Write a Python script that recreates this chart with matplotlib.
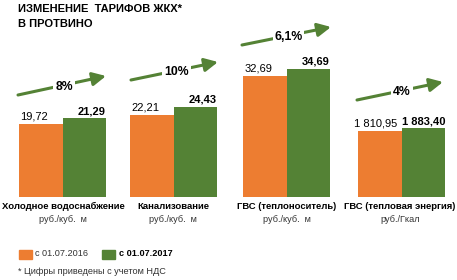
import matplotlib
matplotlib.use('Agg')
import matplotlib.pyplot as plt
from matplotlib.patches import Rectangle, FancyArrowPatch

plt.rcParams['font.family'] = ['Liberation Sans', 'DejaVu Sans']

# ---- data ----
categories = ['Холодное водоснабжение', 'Канализование',
              'ГВС (теплоноситель)', 'ГВС (тепловая энергия)']
units = ['руб./куб.  м', 'руб./куб.  м', 'руб./куб.  м', 'руб./Гкал']
values_2016 = [19.72, 22.21, 32.69, 1810.95]
values_2017 = [21.29, 24.43, 34.69, 1883.40]
labels_2016 = ['19,72', '22,21', '32,69', '1 810,95']
labels_2017 = ['21,29', '24,43', '34,69', '1 883,40']
growth = ['8%', '10%', '6,1%', '4%']
series_names = ['с 01.07.2016', 'с 01.07.2017']
title_lines = ['ИЗМЕНЕНИЕ  ТАРИФОВ ЖКХ*', 'В ПРОТВИНО']
footnote = '* Цифры приведены с учетом НДС'

# ---- style / layout ----
ORANGE = '#ED7D31'
GREEN = '#548235'
TXT = '#333333'
W, H = 457, 280

fig = plt.figure(figsize=(W / 100, H / 100), dpi=100)


def fx(x):
    return x / W


def fy(y):
    return 1 - y / H


group_left = [19, 130, 243, 358]
group_right = [106, 217, 330, 445]
bar_bottom, ax_top = 197, 20
ymax = [47.8, 47.8, 47.8, 4857]
arrows = [((18, 95), (106, 76)), ((131, 80), (218, 62)),
          ((242, 45), (331, 27)), ((357, 100), (443, 82))]
label_x = [63, 173, 287, 400]

for i in range(4):
    ax = fig.add_axes([fx(group_left[i]), fy(bar_bottom),
                       (group_right[i] - group_left[i]) / W,
                       (bar_bottom - ax_top) / H])
    ax.bar([0, 1], [values_2016[i], values_2017[i]], width=1.0,
           color=[ORANGE, GREEN])
    ax.set_xlim(-0.5, 1.5)
    ax.set_ylim(0, ymax[i])
    ax.axis('off')
    if i < 3:
        ax.annotate(labels_2016[i], (-0.5, values_2016[i]), xytext=(1, 1.5),
                    textcoords='offset points', ha='left', va='bottom',
                    fontsize=8, color='black')
        ax.annotate(labels_2017[i], (1.5, values_2017[i]), xytext=(-0.5, 1.5),
                    textcoords='offset points', ha='right', va='bottom',
                    fontsize=8, fontweight='bold', color='black')
    else:
        ax.annotate(labels_2016[i], (0, values_2016[i]), xytext=(-3, 1.5),
                    textcoords='offset points', ha='center', va='bottom',
                    fontsize=8, color='black')
        ax.annotate(labels_2017[i], (1, values_2017[i]), xytext=(0, 1.5),
                    textcoords='offset points', ha='center', va='bottom',
                    fontsize=8, fontweight='bold', color='black')

    # growth arrow
    (x0, y0), (x1, y1) = arrows[i]
    arr = FancyArrowPatch((fx(x0), fy(y0)), (fx(x1), fy(y1)),
                          transform=fig.transFigure,
                          arrowstyle='-|>,head_length=0.8,head_width=0.4',
                          mutation_scale=10, color=GREEN, lw=2.2,
                          shrinkA=0, shrinkB=0, zorder=5)
    fig.add_artist(arr)
    cx, cy = (x0 + x1) / 2 + 2, (y0 + y1) / 2 + 1
    fig.text(fx(cx), fy(cy), growth[i], ha='center', va='center',
             fontsize=8.8, fontweight='bold', color='black', zorder=10,
             bbox=dict(boxstyle='square,pad=0.15', fc='white', ec='none'))

    fig.text(fx(label_x[i]), fy(206.5), categories[i], ha='center', va='center',
             fontsize=6.8, fontweight='bold', color='black')
    fig.text(fx(label_x[i]), fy(220), units[i], ha='center', va='center',
             fontsize=6.6, color=TXT)

# title
fig.text(fx(18), fy(9), title_lines[0], ha='left', va='center',
         fontsize=8, fontweight='bold', color='black')
fig.text(fx(18), fy(24), title_lines[1], ha='left', va='center',
         fontsize=8, fontweight='bold', color='black')

# legend
leg_y = 254
fig.add_artist(Rectangle((fx(19), fy(leg_y + 4.5)), 13 / W, 9 / H,
                         transform=fig.transFigure, color=ORANGE))
fig.text(fx(35), fy(leg_y), series_names[0], ha='left', va='center',
         fontsize=6.6, color=TXT)
fig.add_artist(Rectangle((fx(102), fy(leg_y + 4.5)), 13 / W, 9 / H,
                         transform=fig.transFigure, color=GREEN))
fig.text(fx(119), fy(leg_y), series_names[1], ha='left', va='center',
         fontsize=6.6, fontweight='bold', color='black')

fig.text(fx(18), fy(272), footnote, ha='left', va='center',
         fontsize=6.6, color=TXT)

fig.savefig('out.png', dpi=100)
